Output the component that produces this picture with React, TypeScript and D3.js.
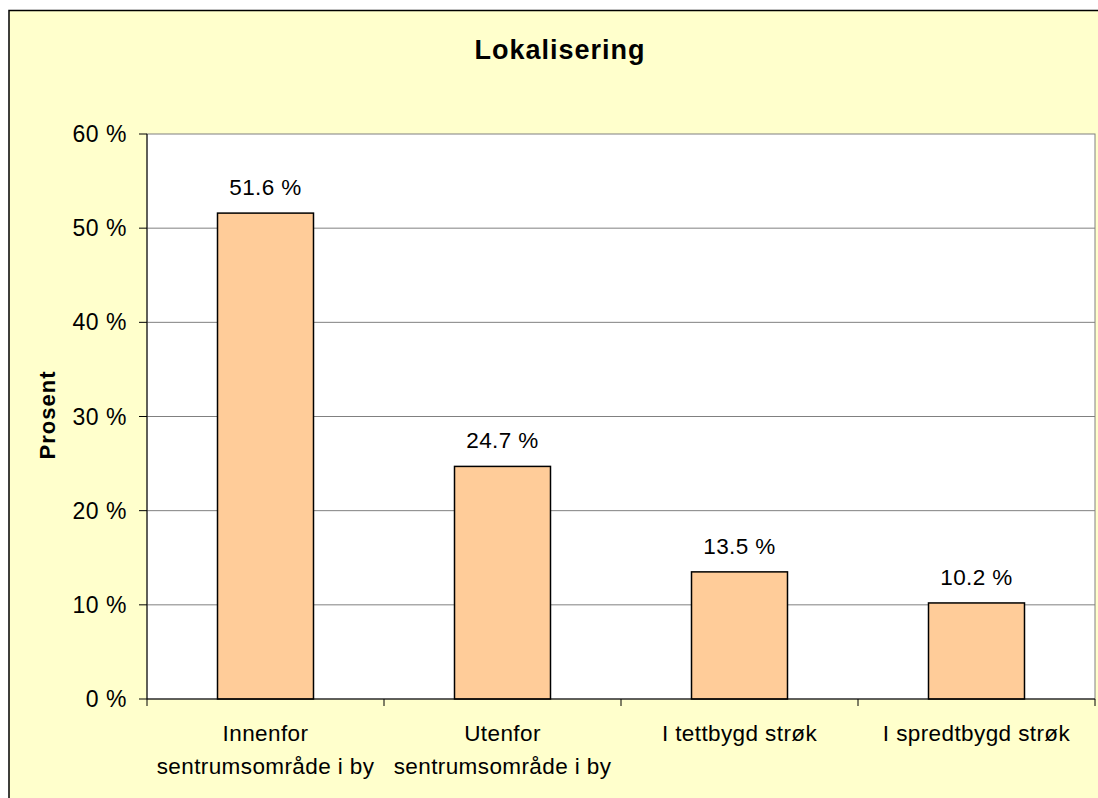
import React from 'react'
import * as d3 from 'd3'

// chart data
const categories = [
    ['Innenfor', 'sentrumsområde i by'],
    ['Utenfor', 'sentrumsområde i by'],
    ['I tettbygd strøk'],
    ['I spredtbygd strøk'],
]
const values = [51.6, 24.7, 13.5, 10.2]
const yTicks = [0, 10, 20, 30, 40, 50, 60]
const title = 'Lokalisering'
const yTitle = 'Prosent'

const W = 1098
const H = 798
const plot = { left: 147, top: 134, right: 1095, bottom: 699 }
const font = 'Liberation Sans, Arial, sans-serif'

export default function App() {
    const idx = categories.map((_, i) => i)

    const xScale = d3.scaleBand<number>()
        .domain(idx)
        .range([plot.left, plot.right])
        .paddingInner(0.595)
        .paddingOuter(0.2975)

    const yScale = d3.scaleLinear()
        .domain([0, 60])
        .range([plot.bottom, plot.top])

    const step = (plot.right - plot.left) / categories.length
    const boundaries = d3.range(categories.length + 1).map(i => plot.left + i * step)
    const mid = (i: number) => (xScale(i) as number) + xScale.bandwidth() / 2

    return (
        <svg width={W} height={H} style={{ position: 'absolute', left: 0, top: 0 }}>
            <rect x={0} y={0} width={W} height={H} fill="#ffffff" />
            <rect x={9} y={10.5} width={W + 20} height={H + 20} fill="#ffffcc" stroke="#000" strokeWidth={1.5} />

            <text x={560} y={59} textAnchor="middle" fontFamily={font} fontWeight="bold" fontSize={27} letterSpacing={1}>{title}</text>

            <rect x={plot.left} y={plot.top} width={plot.right - plot.left} height={plot.bottom - plot.top}
                fill="#fff" stroke="#808080" strokeWidth={1} />

            {/* gridlines */}
            {yTicks.filter(t => t > 0 && t < 60).map(t => (
                <line key={'g' + t} x1={plot.left} x2={plot.right} y1={yScale(t)} y2={yScale(t)} stroke="#808080" strokeWidth={1} />
            ))}

            {/* bars */}
            {values.map((v, i) => (
                <rect key={'b' + i} x={xScale(i)} y={yScale(v)} width={xScale.bandwidth()} height={yScale(0) - yScale(v)}
                    fill="#ffcc99" stroke="#000" strokeWidth={1.5} />
            ))}

            {/* data labels */}
            {values.map((v, i) => (
                <text key={'l' + i} x={mid(i)} y={yScale(v) - 18}
                    textAnchor="middle" fontFamily={font} fontSize={22.5} letterSpacing={0.4}>{v.toFixed(1) + ' %'}</text>
            ))}

            {/* y axis */}
            <line x1={plot.left} x2={plot.left} y1={plot.top} y2={plot.bottom} stroke="#000" strokeWidth={1} />
            {yTicks.map(t => (
                <g key={'y' + t}>
                    <line x1={plot.left - 8} x2={plot.left} y1={yScale(t)} y2={yScale(t)} stroke="#000" strokeWidth={1} />
                    <text x={127} y={yScale(t)} dy="0.35em" textAnchor="end" fontFamily={font} fontSize={23} letterSpacing={0.5}>{t + ' %'}</text>
                </g>
            ))}

            {/* x axis */}
            <line x1={plot.left} x2={plot.right} y1={plot.bottom} y2={plot.bottom} stroke="#000" strokeWidth={1} />
            {boundaries.map((b, i) => (
                <line key={'t' + i} x1={b} x2={b} y1={plot.bottom} y2={plot.bottom + 7} stroke="#000" strokeWidth={1} />
            ))}
            {categories.map((lines, i) => (
                <text key={'c' + i} x={mid(i)} y={741}
                    textAnchor="middle" fontFamily={font} fontSize={22.5} letterSpacing={0.4}>
                    {lines.map((ln, j) => (
                        <tspan key={j} x={mid(i)} dy={j === 0 ? 0 : 33}>{ln}</tspan>
                    ))}
                </text>
            ))}

            <text transform="translate(55,415) rotate(-90)" textAnchor="middle" fontFamily={font} fontWeight="bold" fontSize={22} letterSpacing={1}>{yTitle}</text>
        </svg>
    )
}
